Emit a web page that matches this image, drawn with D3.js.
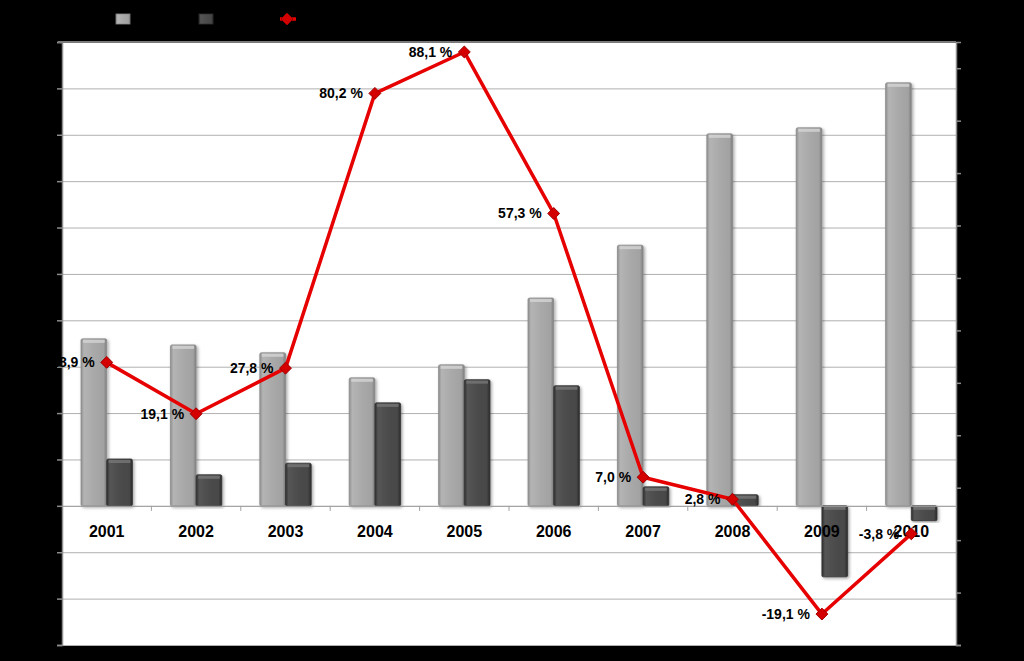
<!DOCTYPE html>
<html>
<head>
<meta charset="utf-8">
<script src="https://cdn.jsdelivr.net/npm/d3@7"></script>
<style>
  html, body { margin: 0; padding: 0; background: #000; }
  svg { display: block; }
  .year { font-family: "Liberation Sans", Arial, sans-serif; font-size: 16px; font-weight: bold; fill: #000; }
  .pct { font-family: "Liberation Sans", Arial, sans-serif; font-size: 14px; font-weight: bold; fill: #000; }
</style>
</head>
<body>
<svg width="1024" height="661"></svg>
<script>
const years = ['2001', '2002', '2003', '2004', '2005', '2006', '2007', '2008', '2009', '2010'];
const totalValues = [360, 347, 330, 276, 304, 448, 562, 802, 815, 912];
const partValues = [101, 67, 92, 222, 272, 259, 41, 24, -153, -32];
const rateValues = [28.9, 19.1, 27.8, 80.2, 88.1, 57.3, 7.0, 2.8, -19.1, -3.8];
const rateLabels = ['28,9 %', '19,1 %', '27,8 %', '80,2 %', '88,1 %', '57,3 %', '7,0 %', '2,8 %', '-19,1 %', '-3,8 %'];

const svg = d3.select('svg');

const plotLeft = 62, plotRight = 956, plotTop = 42, plotBottom = 645;

const x = d3.scaleBand()
    .domain(years)
    .range([plotLeft, plotRight]);

const sub = d3.scaleBand()
    .domain(['total', 'part'])
    .range([0, x.bandwidth()])
    .paddingOuter(0.74);

const yLeft = d3.scaleLinear()
    .domain([-300, 1000])
    .range([plotBottom, plotTop]);

const yRight = d3.scaleLinear()
    .domain([-25, 90])
    .range([plotBottom, plotTop]);

const defs = svg.append('defs');

function barGradient(id, stops) {
    const g = defs.append('linearGradient')
        .attr('id', id)
        .attr('x1', 0).attr('x2', 1).attr('y1', 0).attr('y2', 0);
    stops.forEach(([o, c]) => g.append('stop').attr('offset', o).attr('stop-color', c));
}
barGradient('lightBar', [[0, '#8f8f8f'], [0.12, '#b4b4b4'], [0.5, '#a9a9a9'], [0.88, '#a2a2a2'], [1, '#7e7e7e']]);
barGradient('darkBar', [[0, '#2e2e2e'], [0.12, '#555555'], [0.5, '#4c4c4c'], [0.88, '#474747'], [1, '#2a2a2a']]);

const shadow = defs.append('filter').attr('id', 'shadow')
    .attr('x', '-30%').attr('y', '-10%').attr('width', '160%').attr('height', '120%');
shadow.append('feDropShadow')
    .attr('dx', 1.5).attr('dy', 1.5).attr('stdDeviation', 1.5)
    .attr('flood-color', '#000').attr('flood-opacity', 0.35);

// plot area
svg.append('rect')
    .attr('x', plotLeft)
    .attr('y', plotTop)
    .attr('width', plotRight - plotLeft)
    .attr('height', plotBottom - plotTop)
    .attr('fill', '#ffffff');

// horizontal grid lines
svg.append('g')
    .attr('transform', `translate(${plotLeft}, 0)`)
    .call(d3.axisLeft(yLeft)
        .tickValues(d3.range(-300, 1001, 100))
        .tickSize(-(plotRight - plotLeft))
        .tickFormat(''))
    .call(g => g.select('.domain').remove())
    .call(g => g.selectAll('line').attr('stroke', '#b0b0b0').attr('stroke-width', 1));

// left axis
svg.append('g')
    .attr('transform', `translate(${plotLeft}, 0)`)
    .call(d3.axisLeft(yLeft)
        .tickValues(d3.range(-300, 1001, 100))
        .tickSize(5)
        .tickFormat(''))
    .call(g => g.selectAll('line, path').attr('stroke', '#8c8c8c').attr('stroke-width', 1.5));

// right axis
svg.append('g')
    .attr('transform', `translate(${plotRight}, 0)`)
    .call(d3.axisRight(yRight)
        .tickValues(d3.range(-25, 90, 10))
        .tickSize(5)
        .tickFormat(''))
    .call(g => g.selectAll('line, path').attr('stroke', '#8c8c8c').attr('stroke-width', 1.5));

// top border
svg.append('line')
    .attr('x1', plotLeft - 4).attr('x2', plotRight)
    .attr('y1', plotTop).attr('y2', plotTop)
    .attr('stroke', '#7a7a7a')
    .attr('stroke-width', 2);

// bars
const groups = svg.append('g')
    .selectAll('g')
    .data(years)
    .join('g')
    .attr('transform', d => `translate(${x(d)}, 0)`);

groups.append('rect')
    .attr('x', sub('total'))
    .attr('y', (d, i) => yLeft(Math.max(0, totalValues[i])))
    .attr('width', sub.bandwidth())
    .attr('height', (d, i) => Math.abs(yLeft(totalValues[i]) - yLeft(0)))
    .attr('fill', 'url(#lightBar)')
    .attr('stroke', '#8a8a8a')
    .attr('stroke-width', 0.8)
    .attr('rx', 1.5)
    .attr('filter', 'url(#shadow)');

groups.append('rect')
    .attr('x', sub('part'))
    .attr('y', (d, i) => yLeft(Math.max(0, partValues[i])))
    .attr('width', sub.bandwidth())
    .attr('height', (d, i) => Math.abs(yLeft(partValues[i]) - yLeft(0)))
    .attr('fill', 'url(#darkBar)')
    .attr('stroke', '#333333')
    .attr('stroke-width', 0.8)
    .attr('rx', 1.5)
    .attr('filter', 'url(#shadow)');

// top bevel highlight
groups.append('rect')
    .attr('x', sub('total') + 2)
    .attr('y', (d, i) => yLeft(Math.max(0, totalValues[i])) + 1)
    .attr('width', sub.bandwidth() - 4)
    .attr('height', 3)
    .attr('fill', '#d4d4d4')
    .attr('opacity', 0.8);

groups.append('rect')
    .attr('x', sub('part') + 2)
    .attr('y', (d, i) => yLeft(Math.max(0, partValues[i])) + 1)
    .attr('width', sub.bandwidth() - 4)
    .attr('height', 3)
    .attr('fill', '#777777')
    .attr('opacity', 0.8);

// category axis on zero line
svg.append('g')
    .attr('transform', `translate(0, ${yLeft(0)})`)
    .call(d3.axisBottom(x).tickSize(0).tickFormat(''))
    .call(g => g.select('.domain').attr('stroke', '#a0a0a0').attr('stroke-width', 1));

svg.append('g')
    .selectAll('line')
    .data(years.slice(1))
    .join('line')
    .attr('x1', d => x(d)).attr('x2', d => x(d))
    .attr('y1', yLeft(0)).attr('y2', yLeft(0) + 5)
    .attr('stroke', '#a0a0a0');

svg.append('g')
    .selectAll('text')
    .data(years)
    .join('text')
    .attr('class', 'year')
    .attr('x', d => x(d) + x.bandwidth() / 2)
    .attr('y', yLeft(0) + 31)
    .attr('text-anchor', 'middle')
    .text(d => d);

// rate line
const line = d3.line()
    .x((d, i) => x(years[i]) + x.bandwidth() / 2)
    .y(d => yRight(d));

svg.append('path')
    .datum(rateValues)
    .attr('d', line)
    .attr('fill', 'none')
    .attr('stroke', '#e60000')
    .attr('stroke-width', 3.5)
    .attr('stroke-linejoin', 'round');

const diamond = d3.symbol().type(d3.symbolDiamond2).size(90);

svg.append('g')
    .selectAll('path')
    .data(rateValues)
    .join('path')
    .attr('transform', (d, i) => `translate(${x(years[i]) + x.bandwidth() / 2}, ${yRight(d)})`)
    .attr('d', diamond)
    .attr('fill', '#d40000')
    .attr('stroke', '#a00000')
    .attr('stroke-width', 1);

svg.append('g')
    .selectAll('text')
    .data(rateValues)
    .join('text')
    .attr('class', 'pct')
    .attr('x', (d, i) => x(years[i]) + x.bandwidth() / 2 - 12)
    .attr('y', d => yRight(d))
    .attr('dy', '0.35em')
    .attr('text-anchor', 'end')
    .text((d, i) => rateLabels[i]);

// legend swatches
const legend = svg.append('g');
legend.append('rect')
    .attr('x', 116).attr('y', 14).attr('width', 14).attr('height', 10)
    .attr('fill', 'url(#lightBar)').attr('stroke', '#8a8a8a').attr('stroke-width', 0.8);
legend.append('rect')
    .attr('x', 199).attr('y', 14).attr('width', 14).attr('height', 10)
    .attr('fill', 'url(#darkBar)').attr('stroke', '#333').attr('stroke-width', 0.8);
legend.append('line')
    .attr('x1', 280).attr('x2', 296).attr('y1', 19).attr('y2', 19)
    .attr('stroke', '#e60000').attr('stroke-width', 3.5);
legend.append('path')
    .attr('transform', 'translate(287, 19)')
    .attr('d', diamond)
    .attr('fill', '#d40000')
    .attr('stroke', '#a00000');
</script>
</body>
</html>
